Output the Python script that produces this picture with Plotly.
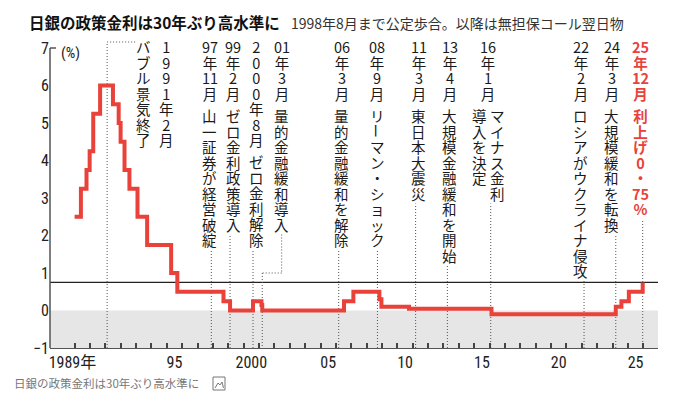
import pandas as pd
import plotly.graph_objects as go

# ---------------- data ----------------
rate_dates = ["1989-01-01", "1989-05-31", "1989-10-11", "1989-12-25", "1990-03-20",
              "1990-08-30", "1991-07-01", "1991-11-14", "1991-12-30", "1992-04-01",
              "1992-07-27", "1993-02-04", "1993-09-21", "1995-04-14", "1995-09-08",
              "1998-09-09", "1999-02-12", "2000-08-11", "2001-02-28", "2001-03-19",
              "2006-07-14", "2007-02-21", "2008-10-31", "2008-12-19", "2010-10-05",
              "2016-02-16", "2024-03-19", "2024-07-31", "2025-01-24", "2025-12-19"]
rates = [2.5, 3.25, 3.75, 4.25, 5.25, 6.0, 5.5, 5.0, 4.5, 3.75, 3.25, 2.5, 1.75, 1.0, 0.5,
         0.25, 0.0, 0.25, 0.15, 0.0, 0.25, 0.5, 0.3, 0.1, 0.05, -0.1, 0.1, 0.25, 0.5, 0.75]

event_dates = ["1991-02-13", "1997-11-24", "1999-02-12", "2000-08-11", "2001-03-19",
               "2006-03-09", "2008-09-15", "2011-03-11", "2013-04-04", "2016-01-29",
               "2022-02-24", "2024-03-19", "2025-12-19"]
event_labels = [
    ["1991年2月", "バブル景気終了"],
    ["97年11月 山一証券が経営破綻"],
    ["99年2月 ゼロ金利政策導入"],
    ["2000年8月 ゼロ金利解除"],
    ["01年3月 量的金融緩和導入"],
    ["06年3月 量的金融緩和を解除"],
    ["08年9月 リーマン・ショック"],
    ["11年3月 東日本大震災"],
    ["13年4月 大規模金融緩和を開始"],
    ["16年1月", "マイナス金利", "導入を決定"],
    ["22年2月 ロシアがウクライナ侵攻"],
    ["24年3月 大規模緩和を転換"],
    ["25年12月 利上げ0・75%"],
]

year_ticks = list(range(1989, 2027))
x_label_years = [1989, 1995, 2000, 2005, 2010, 2015, 2020, 2025]
x_label_text = ["1989年", "95", "2000", "05", "10", "15", "20", "25"]
y_ticks = [-1, 0, 1, 2, 3, 4, 5, 6, 7]

title_text = "日銀の政策金利は30年ぶり高水準に"
subtitle_text = "1998年8月まで公定歩合。以降は無担保コール翌日物"
caption_text = "日銀の政策金利は30年ぶり高水準に"
unit_text = "(%)"

# ---------------- layout constants ----------------
W, H = 677, 397
ML, MR, MT, MB = 50, 19, 30, 49
X_RANGE = [1987.40, 2026.96]
Y_RANGE = [-1.0, 7.48]
PW, PH = W - ML - MR, H - MT - MB
PPY = PW / (X_RANGE[1] - X_RANGE[0])
PPU = PH / (Y_RANGE[1] - Y_RANGE[0])

RED = "#e8423b"
DOT = "#555555"
TICKFONT = "Liberation Sans Narrow, Arial Narrow, Roboto Condensed, Liberation Sans, Arial, Noto Sans CJK JP, sans-serif"
CJK = "Noto Sans CJK JP, Noto Sans CJK SC, sans-serif"

TOP, PITCH, GAP = 46.5, 15.5, 7.0
GLYPH = 14.5
label_layout = [
    [(59, 0), (36, 0)],
    [(-1.5, 0)],
    [(3, 0)],
    [(3, 0)],
    [(19.4, 0)],
    [(3, 0)],
    [(0, 0)],
    [(3, 0)],
    [(2.6, 0)],
    [(-2.3, 0), (7.2, 4), (-10.8, 4)],
    [(-3.5, 0)],
    [(-4, 0)],
    [(-2, 0)],
]
leader_kind = ["hook", None, None, None, "jog", None, None, None, None, None, None, None, None]
x_label_offset = [-0.14, 0.5, 0.5, 0.5, 0.5, 0.5, 0.5, 0.5]


def to_year(s):
    t = pd.Timestamp(s)
    a = pd.Timestamp(year=t.year, month=1, day=1)
    b = pd.Timestamp(year=t.year + 1, month=1, day=1)
    return t.year + (t - a) / (b - a)


def py_to_y(py):
    return Y_RANGE[1] - (py - MT) / PPU


def px_paper(px):
    return (px - ML) / PW


def py_paper(py):
    return (H - MB - py) / PH


def split_cells(s):
    out, i = [], 0
    while i < len(s):
        if s[i].isdigit():
            j = i
            while j < len(s) and s[j].isdigit():
                j += 1
            run = s[i:j]
            out.extend([run] if len(run) <= 2 else list(run))
            i = j
        else:
            out.append(s[i])
            i += 1
    return out


fig = go.Figure()
fig.add_trace(go.Scatter(
    x=[to_year(d) for d in rate_dates], y=rates, mode="lines",
    line=dict(color=RED, width=4, shape="hv"), hoverinfo="skip", showlegend=False))

shapes = []
shapes.append(dict(type="rect", xref="paper", yref="y", x0=0, x1=1, y0=-1, y1=0,
                   fillcolor="#e6e6e6", line=dict(width=0), layer="below"))

annotations = []
dotline = dict(color=DOT, width=1, dash="1px,2px")


def add_segment(ex, dx, cells_centers, bold, color):
    if not cells_centers:
        return
    lines = []
    for c, _ in cells_centers:
        inner = "<b>%s</b>" % c if bold else c
        lines.append("<span style='font-size:%.1fpx'>%s</span>" % (GLYPH, inner))
    mid = (cells_centers[0][1] + cells_centers[-1][1]) / 2.0
    annotations.append(dict(
        x=ex, xref="x", y=1, yref="paper", xshift=dx, yshift=-(mid - MT),
        text="<br>".join(lines), showarrow=False, xanchor="center", yanchor="middle",
        borderpad=0, align="center",
        font=dict(family=CJK, size=PITCH / 1.3, color=color)))


for i, (d, cols) in enumerate(zip(event_dates, event_labels)):
    ex = to_year(d)
    last_event = i == len(event_dates) - 1
    color = RED if last_event else "#1a1a1a"
    bottoms = []
    for text, (dx, srow) in zip(cols, label_layout[i]):
        cy = TOP + (srow * PITCH + GAP if srow else 0)
        last = cy
        seg = []
        for c in split_cells(text):
            if c == " ":
                add_segment(ex, dx, seg, last_event, color)
                seg = []
                cy += GAP
                continue
            if c == "ー":
                add_segment(ex, dx, seg, last_event, color)
                seg = []
                annotations.append(dict(
                    x=ex, xref="x", y=1, yref="paper", xshift=dx, yshift=-(cy - MT),
                    text=c, textangle=90, showarrow=False, xanchor="center",
                    yanchor="middle", borderpad=0,
                    font=dict(family=CJK, size=GLYPH, color=color)))
            else:
                seg.append((c, cy))
            last = cy
            cy += PITCH
        add_segment(ex, dx, seg, last_event, color)
        bottoms.append(last)
    lead_top = max(bottoms) + 10.5
    kind = leader_kind[i]
    if kind == "hook":
        ytop = py_to_y(42)
        shapes.append(dict(type="line", xref="x", yref="y", x0=ex, x1=ex, y0=-1, y1=ytop,
                           line=dotline, layer="below"))
        shapes.append(dict(type="line", xref="x", yref="y", x0=ex, x1=ex + 28 / PPY,
                           y0=ytop, y1=ytop, line=dotline, layer="below"))
    elif kind == "jog":
        tx = ex + label_layout[i][0][0] / PPY
        yj = py_to_y(273)
        shapes.append(dict(type="line", xref="x", yref="y", x0=tx, x1=tx,
                           y0=py_to_y(lead_top), y1=yj, line=dotline, layer="below"))
        shapes.append(dict(type="line", xref="x", yref="y", x0=tx, x1=ex, y0=yj, y1=yj,
                           line=dotline, layer="below"))
        shapes.append(dict(type="line", xref="x", yref="y", x0=ex, x1=ex, y0=yj, y1=-1,
                           line=dotline, layer="below"))
    else:
        shapes.append(dict(type="line", xref="x", yref="y", x0=ex, x1=ex, y0=-1,
                           y1=py_to_y(lead_top), line=dotline, layer="below"))

shapes.append(dict(type="line", xref="paper", yref="y", x0=0, x1=1, y0=rates[-1], y1=rates[-1],
                   line=dict(color="#222222", width=1.2), layer="below"))
shapes.append(dict(type="line", xref="paper", yref="y", x0=0, x1=0, y0=-1, y1=y_ticks[-1],
                   line=dict(color="#555555", width=1.5)))
shapes.append(dict(type="line", xref="paper", yref="y", x0=0, x1=6 / PW, y0=y_ticks[-1],
                   y1=y_ticks[-1], line=dict(color="#555555", width=1.5)))
shapes.append(dict(type="rect", xref="paper", yref="paper", x0=px_paper(213), x1=px_paper(225),
                   y0=py_paper(390), y1=py_paper(377), line=dict(color="#777777", width=1)))
shapes.append(dict(type="path", xref="paper", yref="paper",
                   path="M %f %f L %f %f L %f %f L %f %f L %f %f" % (
                       px_paper(215), py_paper(388), px_paper(218), py_paper(383),
                       px_paper(220), py_paper(385), px_paper(222), py_paper(382),
                       px_paper(223.5), py_paper(388)),
                   line=dict(color="#777777", width=1)))

annotations.append(dict(x=px_paper(27), y=py_paper(22), xref="paper", yref="paper",
                        text="<b>%s</b>" % title_text, showarrow=False, xanchor="left",
                        yanchor="middle", font=dict(family=CJK, size=15.5, color="#111111")))
annotations.append(dict(x=px_paper(289), y=py_paper(23), xref="paper", yref="paper",
                        text=subtitle_text, showarrow=False, xanchor="left", yanchor="middle",
                        font=dict(family=CJK, size=14, color="#333333")))
annotations.append(dict(x=px_paper(12), y=py_paper(383), xref="paper", yref="paper",
                        text=caption_text, showarrow=False, xanchor="left", yanchor="middle",
                        font=dict(family=CJK, size=11.5, color="#777777")))
annotations.append(dict(x=px_paper(59), y=py_paper(53), xref="paper", yref="paper",
                        text=unit_text, showarrow=False, xanchor="left", yanchor="middle",
                        font=dict(family=TICKFONT, size=15, color="#222222")))

fig.update_layout(
    width=W, height=H, margin=dict(l=ML, r=MR, t=MT, b=MB),
    paper_bgcolor="white", plot_bgcolor="white", showlegend=False,
    shapes=shapes, annotations=annotations,
    xaxis=dict(range=X_RANGE, showgrid=False, zeroline=False, showline=True,
               linecolor="#555555", linewidth=1.2, ticks="",
               tickmode="array",
               tickvals=[y + o for y, o in zip(x_label_years, x_label_offset)],
               ticktext=x_label_text,
               tickfont=dict(family=TICKFONT, size=16, color="#222222"),
               minor=dict(tickmode="array", tickvals=year_ticks, ticks="inside",
                          ticklen=5, tickwidth=1.5, tickcolor="#444444", showgrid=False)),
    yaxis=dict(range=Y_RANGE, showgrid=False, zeroline=False, showline=False, ticks="",
               tickmode="array", tickvals=y_ticks,
               tickfont=dict(family=TICKFONT, size=16, color="#222222")),
)

fig.write_html("out.html", config={"displayModeBar": False},
               post_script="document.body.style.margin='0';document.body.style.overflow='hidden';")
